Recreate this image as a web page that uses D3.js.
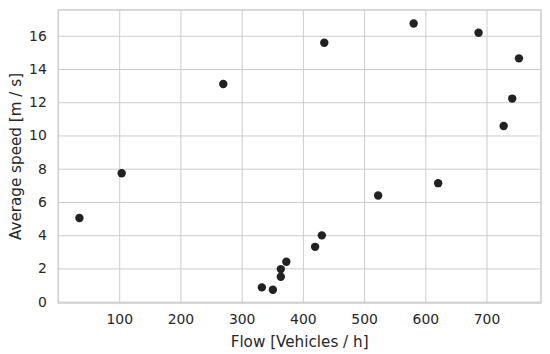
<!DOCTYPE html>
<html>
<head>
<meta charset="utf-8">
<script src="https://cdn.jsdelivr.net/npm/d3@7"></script>
<style>
  body { margin: 0; background: #fff; }
  text { font-family: "DejaVu Sans", sans-serif; fill: #262626; }
</style>
</head>
<body>
<div id="chart"></div>
<script>
// values
const flow = [35, 104, 270, 333, 351, 364, 364, 373, 420, 431, 435, 523, 581, 621, 687, 728, 742, 753];
const speed = [5.03, 7.73, 13.1, 0.86, 0.72, 1.50, 1.96, 2.40, 3.30, 3.99, 15.58, 6.39, 16.74, 7.13, 16.18, 10.57, 12.22, 14.64];
const xTicks = [100, 200, 300, 400, 500, 600, 700];
const yTicks = [0, 2, 4, 6, 8, 10, 12, 14, 16];

const margin = { top: 10, right: 9, bottom: 51, left: 58.3 },
width = 550 - margin.left - margin.right,
height = 354 - margin.top - margin.bottom;

const svg = d3.select('#chart')
    .append('svg')
    .attr('width', width + margin.left + margin.right)
    .attr('height', height + margin.top + margin.bottom);

const group = svg
    .append('g')
    .attr('transform', `translate(${margin.left} ${margin.top})`);

// scales, domains padded like matplotlib's auto margins
const x = d3.scaleLinear()
    .domain([0.5, 789])
    .range([0, width]);

const y = d3.scaleLinear()
    .domain([-0.08, 17.55])
    .range([height, 0]);

// GRID
const xAxis = group
    .append('g')
    .attr('transform', `translate(0 ${height})`)
    .call(d3.axisBottom(x).tickValues(xTicks).tickSize(-height).tickPadding(11));

const yAxis = group
    .append('g')
    .call(d3.axisLeft(y).tickValues(yTicks).tickSize(-width).tickPadding(11.5));

[xAxis, yAxis].forEach((axis) => {
    axis.select('.domain').remove();
    axis.selectAll('line')
        .attr('stroke', '#cccccc')
        .attr('stroke-width', 1);
    axis.selectAll('text')
        .attr('font-size', 13.9)
        .attr('fill', '#262626')
        .attr('font-family', '"DejaVu Sans", sans-serif');
});

// frame around the plot area
group
    .append('rect')
    .attr('x', 0)
    .attr('y', 0)
    .attr('width', width)
    .attr('height', height)
    .attr('fill', 'none')
    .attr('stroke', '#cccccc')
    .attr('stroke-width', 1.5);

// POINTS
group
    .append('g')
    .selectAll('circle')
    .data(flow.map((d, i) => ({ flow: d, speed: speed[i] })))
    .enter()
    .append('circle')
    .attr('cx', d => x(d.flow))
    .attr('cy', d => y(d.speed))
    .attr('r', 4.2)
    .attr('fill', '#222222');

// LABELS
group
    .append('text')
    .attr('x', width / 2)
    .attr('y', height + 44)
    .attr('text-anchor', 'middle')
    .attr('font-size', 15.2)
    .text('Flow [Vehicles / h]');

group
    .append('text')
    .attr('transform', `translate(${21 - margin.left} ${height / 2}) rotate(-90)`)
    .attr('text-anchor', 'middle')
    .attr('font-size', 15.2)
    .text('Average speed [m / s]');
</script>
</body>
</html>
